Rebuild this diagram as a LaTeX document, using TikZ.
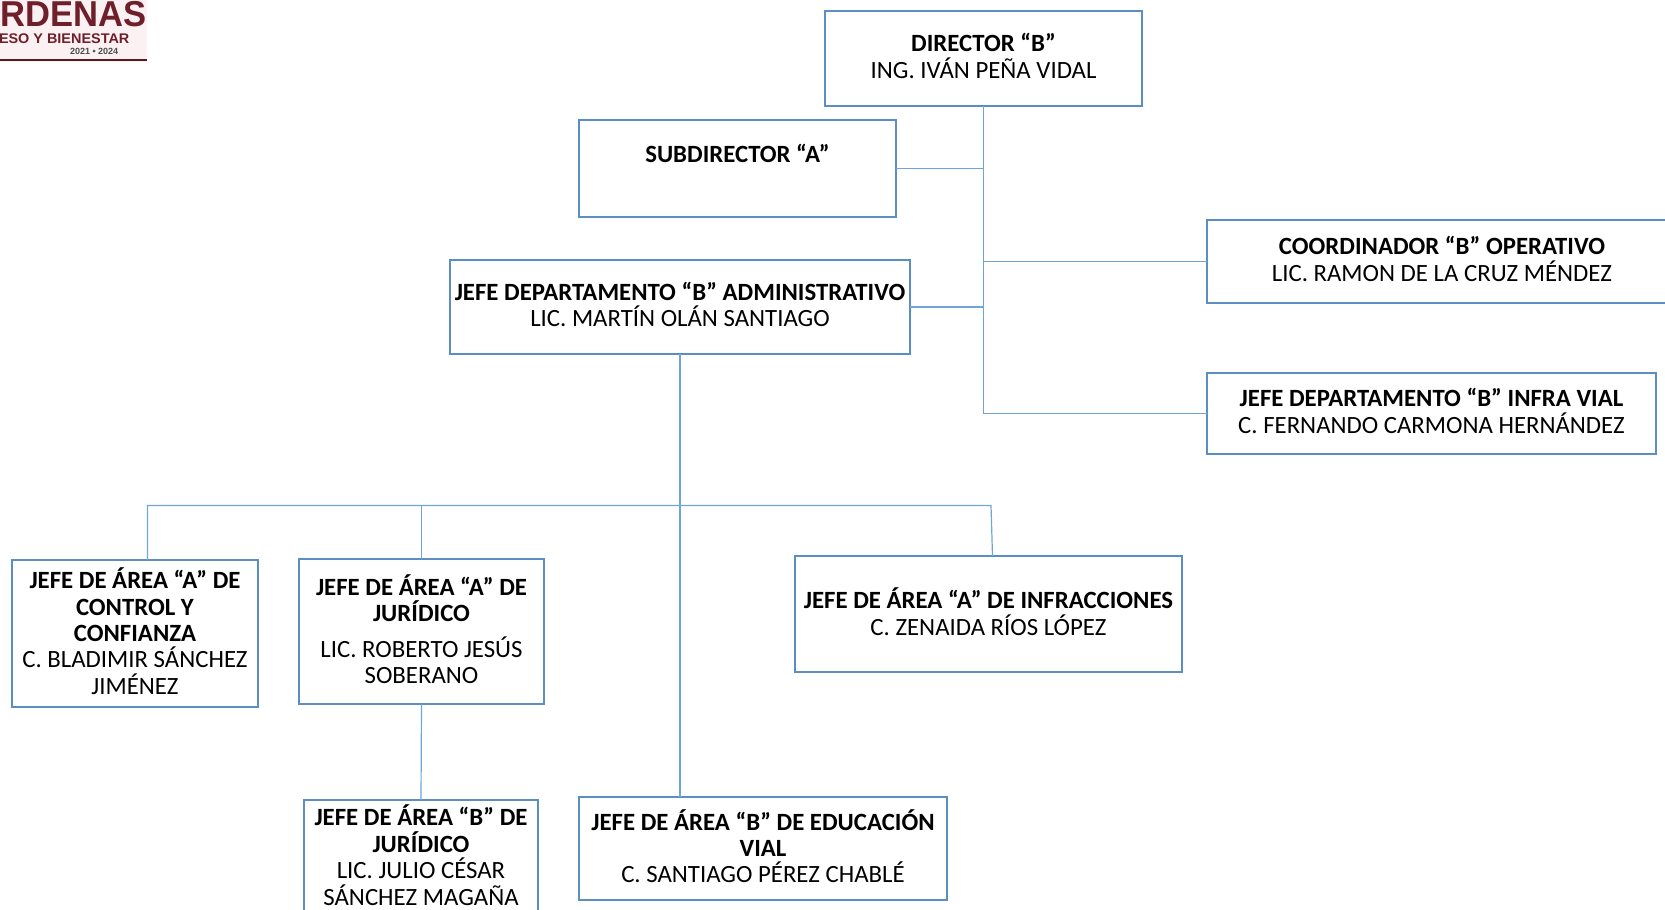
\documentclass[tikz,border=0pt]{standalone}
\usepackage{fontspec}
\setmainfont{Carlito}
\newfontfamily\logofont{Liberation Sans}
\usetikzlibrary{calc, positioning}
\definecolor{boxblue}{HTML}{5B8FC4}
\definecolor{linkblue}{HTML}{6FA5DA}
\definecolor{logored}{HTML}{6E1F2A}
\definecolor{logopink}{HTML}{FBF1F3}
\tikzstyle{orgbox} = [rectangle, line width=2.7pt, inner sep=0pt, outer sep=0pt, align=center, draw=boxblue, fill=white, text depth=5pt, font=\fontsize{24.8}{26.4}\selectfont]
\tikzstyle{link} = [line width=1.2pt, draw=linkblue]
\tikzstyle{logotext} = [inner sep=0pt, outer sep=0pt, anchor=west, text=logored, font=\logofont\bfseries]

\begin{document}
\begin{tikzpicture}[x=1pt, y=-1pt]
	\useasboundingbox (0,0) rectangle (1665,910);
	\clip (0,0) rectangle (1665,910);

	\fill [logopink] (0,0) rectangle (147,62);
	\node (LogoTop) [logotext] at (1,14.5) {\fontsize{36}{36}\selectfont\scalebox{.96}[1]{RDENAS}};
	\node (LogoMid) [logotext] at (-1,38.5) {\fontsize{14}{14}\selectfont\scalebox{1.03}[1]{ESO Y BIENESTAR}};
	\node (LogoLow) [logotext, text=black!70] at (70,51.5) {\fontsize{9}{9}\selectfont 2021 • 2024};
	\fill [logored!80!black] (0,58.5) rectangle (147,61);

	\node (Director) [orgbox, minimum width=317pt, minimum height=95pt] at (983.5,58.5) {\textbf{DIRECTOR “B”}\\ING. IVÁN PEÑA VIDAL};
	\node (Subdirector) [orgbox, text depth=3.5pt, minimum width=317pt, minimum height=97pt] at (737.5,168.5) {\textbf{SUBDIRECTOR “A”}\\\strut};
	\node (Coordinador) [orgbox, minimum width=470pt, minimum height=83pt] at (1442,261.5) {\textbf{COORDINADOR “B” OPERATIVO}\\LIC. RAMON DE LA CRUZ MÉNDEZ};
	\node (InfraVial) [orgbox, minimum width=449pt, minimum height=81pt] at (1431.5,413.5) {\textbf{JEFE DEPARTAMENTO “B” INFRA VIAL}\\C. FERNANDO CARMONA HERNÁNDEZ};
	\node (Administrativo) [orgbox, minimum width=460pt, minimum height=94pt] at (680,307) {\textbf{JEFE DEPARTAMENTO “B” ADMINISTRATIVO}\\LIC. MARTÍN OLÁN SANTIAGO};

	\node (Control) [orgbox, minimum width=246pt, minimum height=147pt] at (135,633.5) {\textbf{JEFE DE ÁREA “A” DE}\\\textbf{CONTROL Y}\\\textbf{CONFIANZA}\\C. BLADIMIR SÁNCHEZ\\JIMÉNEZ};
	\node (JuridicoA) [orgbox, minimum width=245pt, minimum height=145pt] at (421.5,631.5) {\textbf{JEFE DE ÁREA “A” DE}\\\textbf{JURÍDICO}\\[9pt]LIC. ROBERTO JESÚS\\SOBERANO};
	\node (Infracciones) [orgbox, minimum width=387pt, minimum height=116pt] at (988.5,614) {\textbf{JEFE DE ÁREA “A” DE INFRACCIONES}\\C. ZENAIDA RÍOS LÓPEZ};
	\node (JuridicoB) [orgbox, minimum width=234pt, minimum height=115pt] at (421,857.5) {\textbf{JEFE DE ÁREA “B” DE}\\\textbf{JURÍDICO}\\LIC. JULIO CÉSAR\\SÁNCHEZ MAGAÑA};
	\node (Educacion) [orgbox, minimum width=368pt, minimum height=103pt] at (763,848.5) {\textbf{JEFE DE ÁREA “B” DE EDUCACIÓN}\\\textbf{VIAL}\\C. SANTIAGO PÉREZ CHABLÉ};

	\coordinate (BusLeft) at (147.5,505.5);
	\coordinate (BusRight) at (991,505.5);
	\coordinate (InfraccionesTop) at (992.5,556);

	\draw [link] (Director.south) |- (InfraVial.west);
	\draw [link] (Subdirector.east) -- (Subdirector.east -| Director.south);
	\draw [link] (Coordinador.west) -- (Coordinador.west -| Director.south);
	\draw [link] (Administrativo.east) -- (Administrativo.east -| Director.south);
	\draw [link] (Administrativo.south) -- (Administrativo.south |- Educacion.north);
	\draw [link] (BusLeft |- Control.north) -- (BusLeft) -- (BusRight) -- (InfraccionesTop);
	\draw [link] (JuridicoA.north) -- (JuridicoA.north |- BusLeft);
	\draw [link] (JuridicoA.south) -- (JuridicoB.north);
\end{tikzpicture}
\end{document}
